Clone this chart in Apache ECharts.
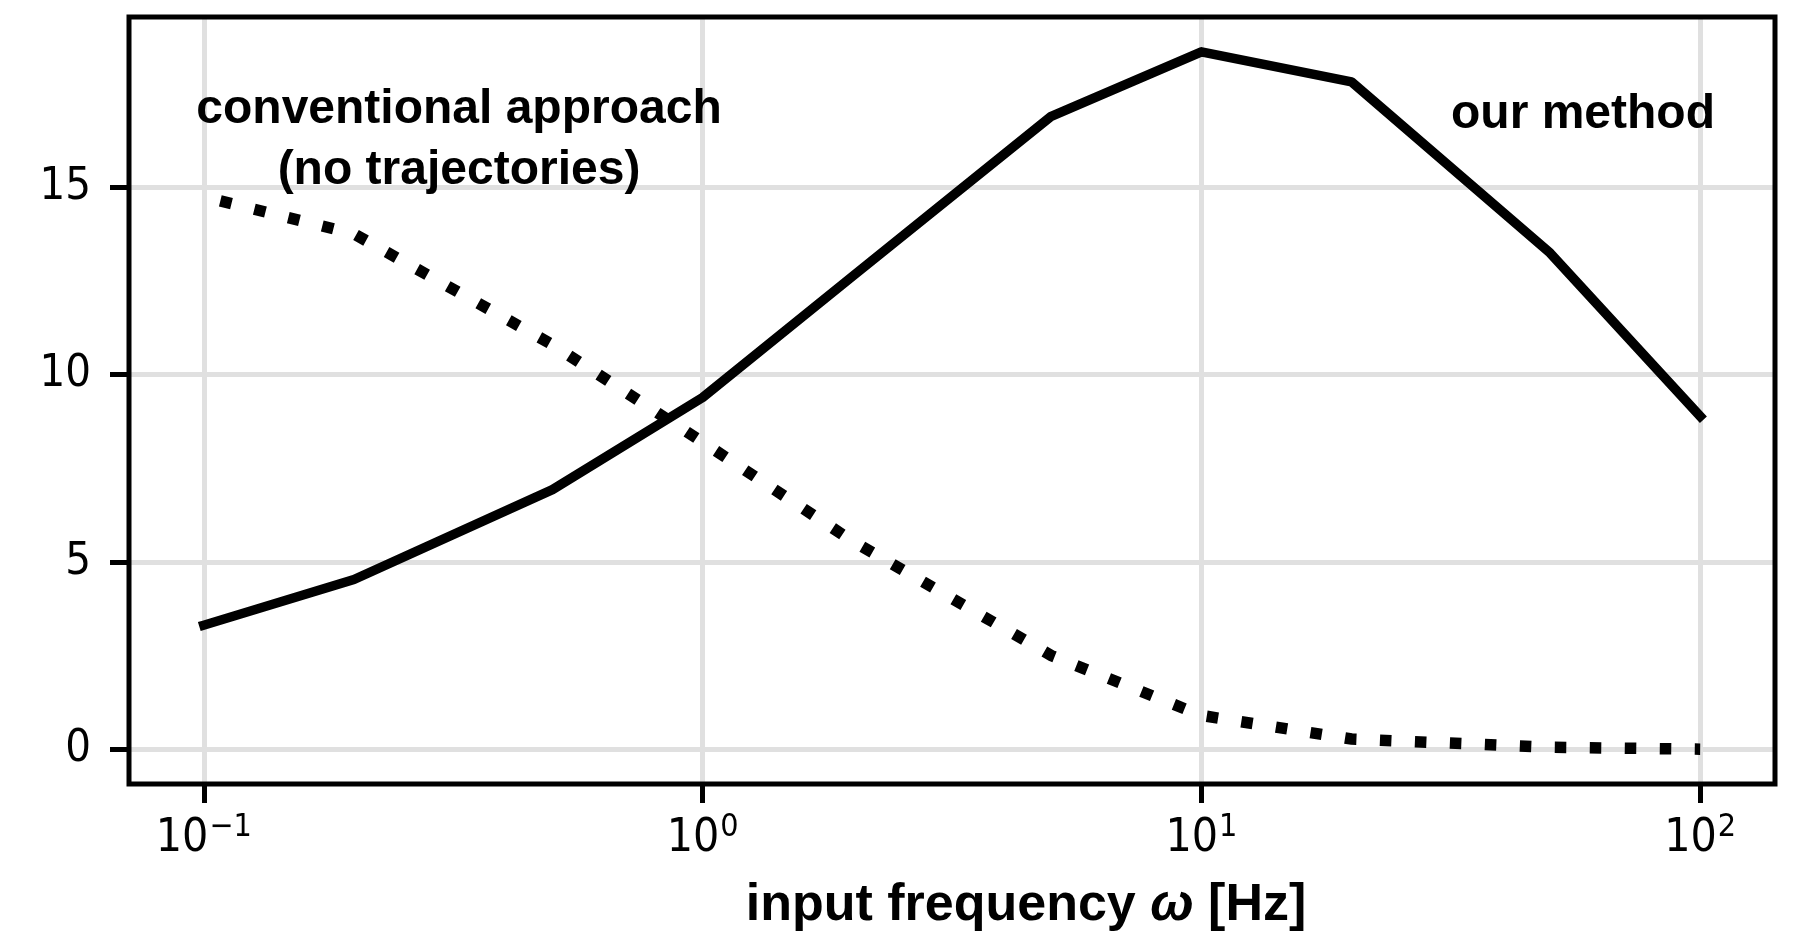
<!DOCTYPE html>
<html>
<head>
<meta charset="utf-8">
<script src="https://cdn.jsdelivr.net/npm/echarts@6/dist/echarts.min.js"></script>
<style>
html,body{margin:0;padding:0;background:#fff;}
#c{width:1799px;height:933px;}
</style>
</head>
<body>
<div id="c"></div>
<script>
// ---- data ----
const frequencies = [0.1, 0.2, 0.5, 1, 2, 5, 10, 20, 50, 100];
const ourMethod = [3.31, 4.53, 6.93, 9.39, 12.63, 16.9, 18.62, 17.82, 13.25, 8.89];
const conventional = [14.75, 13.76, 10.8, 8.2, 5.55, 2.5, 0.9, 0.27, 0.05, 0.0];
const xTicks = [0.1, 1, 10, 100];
const yTicks = [0, 5, 10, 15];
const xTitle = 'input frequency ';
const labelConventional = ['conventional approach', '(no trajectories)'];
const labelOurs = 'our method';

const tickFont = '"Liberation Sans Narrow", "DejaVu Sans Condensed", "Liberation Sans", sans-serif';
const boldFont = '"Liberation Sans", Arial, sans-serif';

const chart = echarts.init(document.getElementById('c'), null, {renderer: 'canvas'});

function pairs(xs, ys) { return xs.map((x, i) => [x, ys[i]]); }

const option = {
  animation: false,
  backgroundColor: '#fff',
  grid: {
    left: 129, right: 24, top: 17, bottom: 149,
    show: true, borderColor: '#000', borderWidth: 5, backgroundColor: 'transparent', z: 3
  },
  xAxis: {
    type: 'log', logBase: 10,
    min: Math.pow(10, -1.15), max: Math.pow(10, 2.15),
    position: 'bottom',
    axisLine: {show: false, onZero: false},
    axisTick: {show: true, customValues: xTicks, length: 19, lineStyle: {color: '#000', width: 5}},
    axisLabel: {
      customValues: xTicks, margin: 28,
      formatter: function (v) {
        const e = Math.round(Math.log10(v));
        return '{b|10}{s|' + String(e).replace('-', '\u2212') + '}';
      },
      rich: {
        b: {fontFamily: tickFont, fontSize: 46, color: '#000', lineHeight: 50, verticalAlign: 'bottom'},
        s: {fontFamily: tickFont, fontSize: 32, color: '#000', lineHeight: 50, verticalAlign: 'top', padding: [0, 0, 0, 1]}
      }
    },
    splitLine: {show: true, lineStyle: {color: '#e0e0e0', width: 5}},
    minorTick: {show: false}
  },
  yAxis: {
    type: 'value',
    min: -0.931, max: 19.551,
    position: 'left',
    axisLine: {show: false, onZero: false},
    axisTick: {show: true, customValues: yTicks, length: 19, lineStyle: {color: '#000', width: 5}},
    axisLabel: {customValues: yTicks, margin: 38, fontFamily: tickFont, fontSize: 45, color: '#000'},
    splitLine: {show: true, lineStyle: {color: '#e0e0e0', width: 5}}
  },
  series: [
    {
      name: 'our method', type: 'line', data: pairs(frequencies, ourMethod),
      showSymbol: false, symbol: 'none',
      lineStyle: {color: '#000', width: 9.5, cap: 'square', join: 'round'}, z: 5
    },
    {
      name: 'conventional approach', type: 'line', data: pairs(frequencies, conventional),
      showSymbol: false, symbol: 'none',
      lineStyle: {color: '#000', width: 11.5, type: [11.5, 23.5], dashOffset: 18, cap: 'butt', join: 'miter'}, z: 5
    }
  ],
  graphic: [
    {type: 'text', x: 459, y: 110, z: 10,
      style: {text: labelConventional[0], font: 'bold 48px ' + boldFont, fill: '#000', textAlign: 'center', textVerticalAlign: 'middle'}},
    {type: 'text', x: 459, y: 171, z: 10,
      style: {text: labelConventional[1], font: 'bold 48px ' + boldFont, fill: '#000', textAlign: 'center', textVerticalAlign: 'middle'}},
    {type: 'text', x: 1583, y: 115, z: 10,
      style: {text: labelOurs, font: 'bold 48px ' + boldFont, fill: '#000', textAlign: 'center', textVerticalAlign: 'middle'}},
    {type: 'text', x: 1026, y: 906, z: 10,
      style: {
        text: '{t|' + xTitle + '}{w|\u03c9}{t| [Hz]}',
        textAlign: 'center', textVerticalAlign: 'middle',
        rich: {
          t: {font: 'bold 52px ' + boldFont, fill: '#000'},
          w: {font: 'italic bold 52px ' + boldFont, fill: '#000'}
        }
      }}
  ]
};
chart.setOption(option);
</script>
</body>
</html>
